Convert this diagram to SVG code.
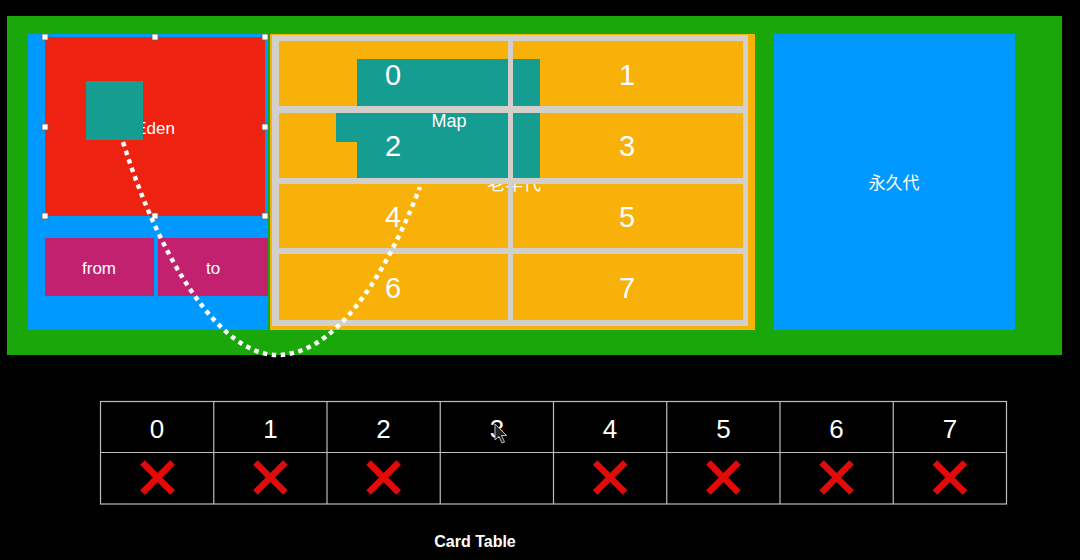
<svg xmlns="http://www.w3.org/2000/svg" width="1080" height="560" viewBox="0 0 1080 560">
<defs>
<style>
.lbl{font-family:"Liberation Sans",Arial,"Noto Sans CJK SC",sans-serif;fill:#fff;text-anchor:middle;dominant-baseline:central}
.cjk{font-family:"Noto Sans CJK SC","Liberation Sans",sans-serif;fill:#fff;text-anchor:middle}
.num{font-size:29px}
.tnum{font-size:26px}
.cell{fill:#F7B108}
.grid{fill:#D3D0CB}
.handle{fill:#fff;stroke:#666;stroke-width:0.8}
.tb{fill:none;stroke:#BDBDBD;stroke-width:1.2}
.x{stroke:#E30A0A;stroke-width:6.5}
</style>
</defs>
<rect width="1080" height="560" fill="#000"/>

<g id="heap">
<rect x="7" y="16" width="1055" height="339" fill="#19A70A"/>
</g>

<g id="young">
<rect x="28" y="34" width="240" height="296" fill="#0099FF"/>
</g>

<g id="eden">
<rect x="45" y="37" width="220" height="179" fill="#EE2211"/>
<text class="lbl" x="155" y="128" font-size="17">Eden</text>
<rect x="86" y="81" width="57" height="59" fill="#159D92"/>
<rect class="handle" x="42" y="34" width="6" height="6"/>
<rect class="handle" x="152" y="34" width="6" height="6"/>
<rect class="handle" x="262" y="34" width="6" height="6"/>
<rect class="handle" x="42" y="124" width="6" height="6"/>
<rect class="handle" x="262" y="124" width="6" height="6"/>
<rect class="handle" x="42" y="213" width="6" height="6"/>
<rect class="handle" x="152" y="213" width="6" height="6"/>
<rect class="handle" x="262" y="213" width="6" height="6"/>
</g>

<g id="from">
<rect x="45" y="238" width="109" height="58" fill="#C2216F"/>
<text class="lbl" x="99" y="268" font-size="17">from</text>
</g>
<g id="to">
<rect x="158" y="238" width="110" height="58" fill="#C2216F"/>
<text class="lbl" x="213" y="268" font-size="17">to</text>
</g>

<g id="old">
<rect x="270" y="34" width="485" height="296" fill="#F7B108"/>
<rect class="grid" x="272" y="35" width="476" height="291"/>
<rect class="cell" x="279" y="41" width="464" height="279"/>
<text class="cjk" x="514" y="190" font-size="18">老年代</text>
</g>

<g id="map">
<path d="M357,59 H540 V178 H357 V142 H336 V112 H357 Z" fill="#159D92"/>
<text class="lbl" x="449" y="121" font-size="18">Map</text>
</g>

<g id="old-grid">
<rect class="grid" x="279" y="106" width="464" height="7"/>
<rect class="grid" x="279" y="178" width="464" height="6"/>
<rect class="grid" x="279" y="248" width="464" height="6"/>
<rect class="grid" x="508" y="41" width="5" height="279"/>
</g>

<g id="old-numbers">
<text class="lbl num" x="393" y="75">0</text>
<text class="lbl num" x="627" y="75">1</text>
<text class="lbl num" x="393" y="146">2</text>
<text class="lbl num" x="627" y="146">3</text>
<text class="lbl num" x="393" y="217">4</text>
<text class="lbl num" x="627" y="217">5</text>
<text class="lbl num" x="393" y="288">6</text>
<text class="lbl num" x="627" y="288">7</text>
</g>

<g id="perm">
<rect x="774" y="34" width="241" height="296" fill="#0099FF"/>
<text class="cjk" x="894" y="189" font-size="17">永久代</text>
</g>

<g id="connectors">
<path d="M123,142 C160,260 220,355 277,355 C330,355 380,290 420,187" fill="none" stroke="#fff" stroke-width="4.5" stroke-dasharray="4.5 4.5"/>
</g>

<g id="card-table">
<rect class="tb" x="100.5" y="401.5" width="906" height="102.5"/>
<line class="tb" x1="100.5" y1="452.5" x2="1006.5" y2="452.5"/>
<line class="tb" x1="213.75" y1="401.5" x2="213.75" y2="504"/>
<line class="tb" x1="327" y1="401.5" x2="327" y2="504"/>
<line class="tb" x1="440.25" y1="401.5" x2="440.25" y2="504"/>
<line class="tb" x1="553.5" y1="401.5" x2="553.5" y2="504"/>
<line class="tb" x1="666.75" y1="401.5" x2="666.75" y2="504"/>
<line class="tb" x1="780" y1="401.5" x2="780" y2="504"/>
<line class="tb" x1="893.25" y1="401.5" x2="893.25" y2="504"/>
<text class="lbl tnum" x="157" y="429">0</text>
<text class="lbl tnum" x="270.4" y="429">1</text>
<text class="lbl tnum" x="383.6" y="429">2</text>
<text class="lbl tnum" x="496.9" y="429">3</text>
<text class="lbl tnum" x="610.1" y="429">4</text>
<text class="lbl tnum" x="723.4" y="429">5</text>
<text class="lbl tnum" x="836.6" y="429">6</text>
<text class="lbl tnum" x="949.9" y="429">7</text>
<g class="x">
<path d="M142.5,462.5 L172.5,492.5 M172.5,462.5 L142.5,492.5"/>
<path d="M255.4,462.5 L285.4,492.5 M285.4,462.5 L255.4,492.5"/>
<path d="M368.6,462.5 L398.6,492.5 M398.6,462.5 L368.6,492.5"/>
<path d="M595.1,462.5 L625.1,492.5 M625.1,462.5 L595.1,492.5"/>
<path d="M708.4,462.5 L738.4,492.5 M738.4,462.5 L708.4,492.5"/>
<path d="M821.6,462.5 L851.6,492.5 M851.6,462.5 L821.6,492.5"/>
<path d="M934.9,462.5 L964.9,492.5 M964.9,462.5 L934.9,492.5"/>
</g>
<text class="lbl" x="475" y="541" font-size="16" font-weight="bold">Card Table</text>
</g>

<g id="cursor">
<path d="M495,424 L495,440 L499,436.5 L502,443 L504.5,442 L501.5,435.5 L506.5,435.5 Z" fill="#222" stroke="#bbb" stroke-width="1"/>
</g>
</svg>
